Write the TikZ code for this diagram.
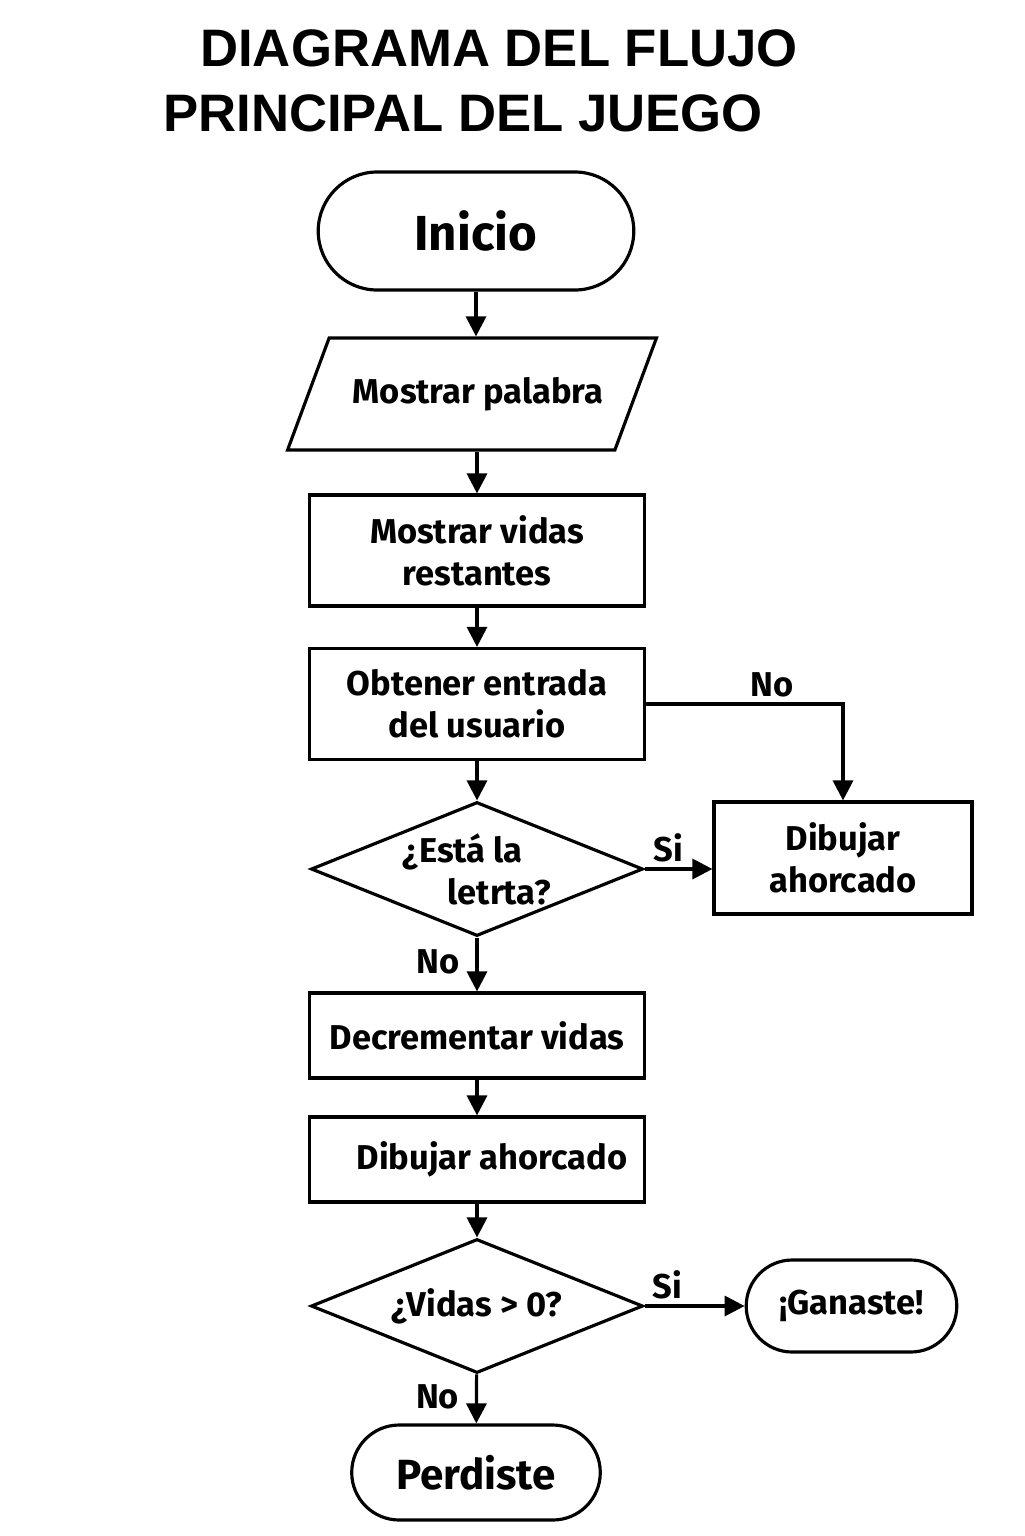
\documentclass[tikz,border=0pt]{standalone}
\usepackage{fontspec}
\setmainfont{Fira Sans}
\newfontfamily\titlefont{Liberation Sans}
\usetikzlibrary{shapes.geometric,shapes.misc,arrows.meta}

\newcommand\cuerpo{\fontsize{9.8}{11.9}\selectfont\bfseries}
\newcommand\grande{\fontsize{14}{17}\selectfont\bfseries}
\newcommand\rotulo{\titlefont\fontsize{15}{18}\selectfont\bfseries}

\tikzset{
  caja/.style={draw,line width=0.9pt,rectangle,minimum width=3.35cm,minimum height=1.11cm,align=center},
  rombo/.style={draw,line width=0.9pt,diamond,aspect=2.48,minimum width=3.32cm,minimum height=1.34cm,inner sep=0pt,align=left},
  term/.style={draw,line width=0.9pt,rounded rectangle,align=center},
  datos/.style={draw,line width=0.9pt,trapezium,trapezium left angle=54,trapezium right angle=126,
    trapezium stretches body=true,minimum width=3.62cm,minimum height=1.12cm},
  flecha/.style={-{Triangle[length=0.2cm,width=0.2cm]},line width=0.9pt},
  etiqueta/.style={inner sep=1.5pt}
}

\begin{document}
\begin{tikzpicture}[every node/.style={font=\cuerpo}]
\useasboundingbox (0,0) rectangle (10.24,-15.36);

% titulo
\node[font=\rotulo] (tit1) at (4.99,-0.48) {DIAGRAMA DEL FLUJO};
\node[font=\rotulo] (tit2) at (4.63,-1.13) {PRINCIPAL DEL JUEGO};

% columna principal
\node[term,minimum width=3.39cm,minimum height=1.18cm,font=\grande] (inicio) at (4.76,-2.31) {Inicio};
\node[datos] (palabra) at (4.72,-3.94) {\hspace*{0.12cm}Mostrar palabra};
\node[caja] (vidas) at (4.77,-5.505) {Mostrar vidas\\restantes};
\node[caja] (entrada) at (4.77,-7.04) {Obtener entrada\\del usuario};
\node[rombo] (esta) at (4.77,-8.69) {¿Está la\\\hspace*{0.45cm}letrta?};
\node[caja,minimum height=0.85cm] (decrementar) at (4.77,-10.355) {Decrementar vidas};
\node[caja,minimum height=0.85cm] (dibujo2) at (4.77,-11.595) {\hspace*{0.3cm}Dibujar ahorcado};
\node[rombo] (quedan) at (4.77,-13.06) {¿Vidas > 0?};
\node[term,minimum width=2.72cm,minimum height=0.95cm,font=\fontsize{12}{15}\selectfont\bfseries] (perdiste) at (4.76,-14.725) {Perdiste};

% rama derecha
\node[caja,minimum width=2.58cm,minimum height=1.12cm] (dibujo1) at (8.43,-8.58) {Dibujar\\ahorcado};
\node[term,minimum width=2.34cm,minimum height=0.92cm] (ganaste) at (8.515,-13.06) {¡Ganaste!};

% flechas
\draw[flecha] (inicio.south) -- (inicio.south |- palabra.north);
\draw[flecha] (palabra.south -| vidas.north) -- (vidas);
\draw[flecha] (vidas) -- (entrada);
\draw[flecha] (entrada) -- (esta);
\draw[flecha] (entrada.east) -| node[etiqueta,pos=0.32,above]{No} (dibujo1.north);
\draw[flecha] (esta.east) -- node[etiqueta,pos=0.35,above]{Si} (esta.east -| dibujo1.west);
\draw[flecha] (esta) -- node[etiqueta,pos=0.45,left=3pt]{No} (decrementar);
\draw[flecha] (decrementar) -- (dibujo2);
\draw[flecha] (dibujo2) -- (quedan);
\draw[flecha] (quedan) -- node[etiqueta,pos=0.23,above]{Si} (ganaste);
\draw[flecha] (quedan) -- node[etiqueta,pos=0.45,left=3pt]{No} (perdiste);
\end{tikzpicture}
\end{document}
